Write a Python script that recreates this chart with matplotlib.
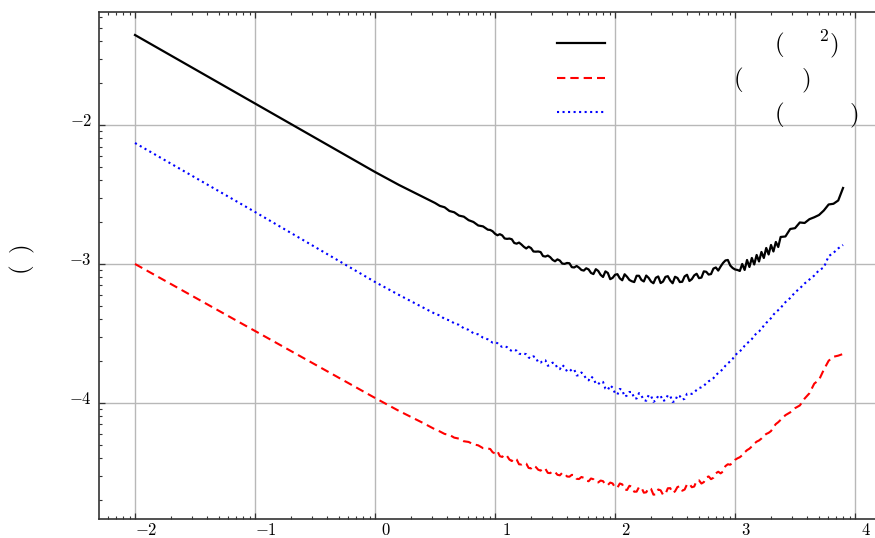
import numpy as np
import matplotlib
matplotlib.use("Agg")
import matplotlib.pyplot as plt
from matplotlib.ticker import FixedLocator, LogLocator, FuncFormatter, NullFormatter
from matplotlib.transforms import ScaledTranslation

plt.rcParams["mathtext.fontset"] = "cm"
plt.rcParams["font.family"] = "serif"
plt.rcParams["font.serif"] = ["DejaVu Serif"]

# averaging time, log10 (s): coarse sweep
log_tau = [
    -2.0, -1.8, -1.6, -1.4, -1.2, -1.0, -0.8, -0.6, -0.4, -0.2, 0.0, 0.2, 0.4,
    0.50, 0.54, 0.58, 0.62, 0.66, 0.70, 0.74, 0.78, 0.82, 0.86, 0.90, 0.94, 0.98,
    1.02, 1.06, 1.10, 1.14, 1.18, 1.22, 1.26, 1.30, 1.34, 1.38, 1.42, 1.46, 1.50,
    1.54, 1.58, 1.62, 1.66, 1.70, 1.74, 1.78, 1.82, 1.86, 1.90, 1.94, 1.98,
    2.02, 2.06, 2.10, 2.14, 2.18, 2.22, 2.26, 2.30, 2.34, 2.38, 2.42, 2.46, 2.50,
    2.54, 2.58, 2.62, 2.66, 2.70, 2.74, 2.78, 2.82, 2.86, 2.90, 2.94, 2.98,
    3.02, 3.06, 3.10, 3.14, 3.18, 3.22, 3.26, 3.30, 3.34, 3.38, 3.42, 3.46, 3.50,
    3.54, 3.58, 3.62, 3.66, 3.70, 3.74, 3.78, 3.82, 3.86, 3.90,
]

# deviation, log10
log_dev_solid = [
    -1.3525, -1.4511, -1.5496, -1.6482, -1.7467, -1.8453, -1.9439, -2.0424, -2.1410, -2.2395, -2.3381, -2.4316, -2.5180,
    -2.5611, -2.5820, -2.5921, -2.6187, -2.6280, -2.6518, -2.6597, -2.6849, -2.6978, -2.7230, -2.7295, -2.7532, -2.7647,
    -2.7935, -2.7942, -2.8194, -2.8223, -2.8539, -2.8597, -2.8885, -2.8856, -2.9115, -2.9144, -2.9467, -2.9511, -2.9806,
    -2.9755, -2.9993, -2.9949, -3.0252, -3.0266, -3.0475, -3.0395, -3.0726, -3.0503, -3.0935, -3.0647, -3.1000,
    -3.0734, -3.1172, -3.0921, -3.1244, -3.0849, -3.1151, -3.0834, -3.1266, -3.0993, -3.1374, -3.0928, -3.1194, -3.0921,
    -3.1302, -3.0892, -3.1223, -3.0820, -3.1021, -3.0532, -3.0762, -3.0331, -3.0475, -2.9928, -2.9712, -3.0288,
    -3.0431, -3.0000, -2.9712, -2.9568, -2.9352, -2.9136, -2.8849, -2.8633, -2.8417, -2.8057, -2.8021, -2.7482, -2.7424,
    -2.7014, -2.7050, -2.6777, -2.6640, -2.6475, -2.6151, -2.5719, -2.5669, -2.5431, -2.4532,
]

log_dev_dashed = [
    -3.0000, -3.0964, -3.1928, -3.2892, -3.3856, -3.4820, -3.5784, -3.6748, -3.7712, -3.8676, -3.9640, -4.0575, -4.1439,
    -4.1899, -4.2050, -4.2230, -4.2295, -4.2496, -4.2568, -4.2755, -4.2806, -4.2978, -4.3050, -4.3252, -4.3280, -4.3547,
    -4.3467, -4.3885, -4.3813, -4.4180, -4.4065, -4.4431, -4.4360, -4.4712, -4.4611, -4.4870, -4.4741, -4.5050, -4.4964,
    -4.5208, -4.5086, -4.5309, -4.5201, -4.5475, -4.5388, -4.5633, -4.5489, -4.5719, -4.5626, -4.5906, -4.5791,
    -4.6093, -4.5856, -4.6259, -4.6029, -4.6381, -4.6086, -4.6431, -4.6180, -4.6583, -4.6288, -4.6554, -4.6129, -4.6360,
    -4.6000, -4.6230, -4.5820, -4.6014, -4.5568, -4.5698, -4.5288, -4.5381, -4.4949, -4.4935, -4.4410, -4.4295,
    -4.3985, -4.3762, -4.3395, -4.3129, -4.2784, -4.2561, -4.2230, -4.2021, -4.1518, -4.1216, -4.0878, -4.0676, -4.0374,
    -4.0180, -3.9683, -3.9302, -3.8611, -3.8338, -3.7604, -3.6964, -3.6676, -3.6597, -3.6475,
]

log_dev_dotted = [
    -2.1295, -2.2288, -2.3280, -2.4273, -2.5266, -2.6259, -2.7266, -2.8273, -2.9280, -3.0288, -3.1295, -3.2230, -3.3129,
    -3.3583, -3.3705, -3.3957, -3.4057, -3.4266, -3.4381, -3.4626, -3.4741, -3.4985, -3.5065, -3.5302, -3.5424, -3.5654,
    -3.5698, -3.5964, -3.5985, -3.6259, -3.6237, -3.6496, -3.6496, -3.6791, -3.6734, -3.7101, -3.6935, -3.7266, -3.7165,
    -3.7568, -3.7417, -3.7741, -3.7590, -3.8007, -3.7985, -3.8374, -3.8230, -3.8654, -3.8489, -3.9065, -3.8899,
    -3.9395, -3.9072, -3.9460, -3.9208, -3.9676, -3.9475, -3.9842, -3.9482, -3.9820, -3.9482, -3.9784, -3.9489, -3.9878,
    -3.9511, -3.9698, -3.9352, -3.9244, -3.8928, -3.8770, -3.8439, -3.8216, -3.7842, -3.7547, -3.7144, -3.6827,
    -3.6403, -3.6115, -3.5705, -3.5403, -3.4978, -3.4676, -3.4237, -3.3892, -3.3460, -3.3158, -3.2748, -3.2446, -3.2043,
    -3.1755, -3.1403, -3.1115, -3.0834, -3.0446, -3.0252, -2.9439, -2.9201, -2.8878, -2.8633,
]

# extra averaging times inside the noisy stretch, log10 (s)
log_tau_fine = [
    0.96, 1.00, 1.04, 1.08, 1.12, 1.16, 1.20, 1.24, 1.28, 1.32, 1.36, 1.40, 1.44, 1.48,
    1.52, 1.56, 1.60, 1.64, 1.68, 1.72, 1.76, 1.80, 1.84, 1.88, 1.92, 1.96, 2.00, 2.04,
    2.08, 2.12, 2.16, 2.20, 2.24, 2.28, 2.32, 2.36, 2.40, 2.44, 2.48, 2.52, 2.56, 2.60,
    2.64, 2.68, 2.72, 2.76, 2.80, 2.84, 2.88, 2.92, 2.96, 3.00, 3.04, 3.08, 3.12, 3.16,
    3.20, 3.24, 3.28, 3.32, 3.36,
]

log_dev_solid_fine = [
    -2.7554, -2.7827, -2.7856, -2.8165, -2.8172, -2.8489, -2.8460, -2.8762, -2.8755, -2.9101, -2.9101, -2.9431, -2.9395, -2.9705,
    -2.9669, -2.9971, -2.9928, -3.0230, -3.0144, -3.0431, -3.0309, -3.0647, -3.0374, -3.0784, -3.0532, -3.1093, -3.0777, -3.1036,
    -3.0741, -3.1151, -3.1302, -3.0849, -3.1259, -3.1000, -3.1388, -3.0899, -3.1266, -3.0878, -3.1388, -3.1007, -3.1280, -3.0777,
    -3.1093, -3.0705, -3.0978, -3.0561, -3.0726, -3.0252, -3.0180, -2.9748, -3.0108, -3.0395, -3.0503, -3.0431, -3.0216, -3.0036,
    -2.9820, -2.9568, -2.9316, -2.9101, -2.8777,
]

log_dev_dashed_fine = [
    -4.3313, -4.3636, -4.3827, -4.3705, -4.4075, -4.3971, -4.4413, -4.4313, -4.4676, -4.4503, -4.4806, -4.4676, -4.5032, -4.4913,
    -4.5169, -4.5029, -4.5291, -4.5172, -4.5460, -4.5327, -4.5590, -4.5435, -4.5712, -4.5583, -4.5892, -4.5730, -4.6086, -4.5795,
    -4.6237, -4.5960, -4.6388, -4.6050, -4.6457, -4.6119, -4.6597, -4.6226, -4.6608, -4.6140, -4.6478, -4.6047, -4.6316, -4.5852,
    -4.6065, -4.5586, -4.5798, -4.5356, -4.5482, -4.5061, -4.5065, -4.4543, -4.4446, -4.4093, -4.3903, -4.3554, -4.3291, -4.2931,
    -4.2701, -4.2370, -4.2151, -4.1741, -4.1385,
]

log_dev_dotted_fine = [
    -3.5561, -3.5633, -3.5881, -3.5924, -3.6165, -3.6183, -3.6449, -3.6449, -3.6730, -3.6647, -3.7086, -3.6935, -3.7324, -3.7101,
    -3.7489, -3.7270, -3.7730, -3.7572, -3.8021, -3.7809, -3.8259, -3.8093, -3.8615, -3.8464, -3.8971, -3.8737, -3.9298, -3.8989,
    -3.9547, -3.9212, -3.9680, -3.9295, -3.9795, -3.9439, -3.9917, -3.9478, -3.9863, -3.9442, -3.9928, -3.9449, -3.9762, -3.9338,
    -3.9345, -3.9061, -3.8874, -3.8583, -3.8352, -3.8003, -3.7716, -3.7320, -3.7011, -3.6593, -3.6284, -3.5885, -3.5575, -3.5165,
    -3.4852, -3.4435, -3.4090, -3.3651, -3.3324,
]

legend_labels = [
    r"$\hspace{7.27}(\hspace{1.55}{}^{2})$",
    r"$\hspace{5.42}(\hspace{2.63})$",
    r"$\hspace{7.27}(\hspace{2.98})$",
]


def merged(coarse, fine):
    t = np.concatenate([log_tau, log_tau_fine])
    v = np.concatenate([coarse, fine])
    order = np.argsort(t, kind="stable")
    return 10.0 ** t[order], 10.0 ** v[order]


fig = plt.figure(figsize=(8.75, 5.38), dpi=100)
ax = fig.add_axes([99 / 875, 19 / 538, 778 / 875, 507 / 538])

styles = [
    (log_dev_solid, log_dev_solid_fine, dict(color="black", lw=1.6, ls="-")),
    (log_dev_dashed, log_dev_dashed_fine, dict(color="red", lw=1.5, ls=(0, (4, 2.4)))),
    (log_dev_dotted, log_dev_dotted_fine, dict(color="blue", lw=1.5, ls=":")),
]
for (coarse, fine, kw), lab in zip(styles, legend_labels):
    x, y = merged(coarse, fine)
    ax.loglog(x, y, label=lab, **kw)

ax.set_xlim(10 ** -2.3, 10 ** 4.183)
ax.set_ylim(10 ** -4.835, 10 ** -1.187)

exp_fmt = FuncFormatter(lambda v, pos: rf"${int(round(np.log10(v)))}$")
ax.xaxis.set_major_locator(FixedLocator([10.0 ** k for k in range(-2, 5)]))
ax.yaxis.set_major_locator(FixedLocator([10.0 ** k for k in range(-4, -1)]))
for axis in (ax.xaxis, ax.yaxis):
    axis.set_minor_locator(LogLocator(base=10, subs=np.arange(2, 10), numticks=20))
    axis.set_major_formatter(exp_fmt)
    axis.set_minor_formatter(NullFormatter())

ax.grid(True, which="major", color="#b8b8b8", lw=1.0)
ax.set_axisbelow(True)

ax.tick_params(which="both", direction="in", top=True, right=False,
               color="#333333", labelsize=12)
ax.tick_params(which="major", length=4.5, width=0.9)
ax.tick_params(which="minor", length=2.5, width=0.8)
ax.tick_params(axis="x", pad=2)
ax.tick_params(axis="y", pad=5)

ax.spines["right"].set_visible(False)
for side in ("left", "bottom", "top"):
    ax.spines[side].set_color("#333333")
    ax.spines[side].set_linewidth(1.2)

ax.set_ylabel(r"$(\;\;)$", fontsize=18, ha="center", va="center")
ax.yaxis.set_label_coords(-0.098, 0.511)

ax.legend(loc="upper left", bbox_to_anchor=(0.5887, 0.967), frameon=False,
          fontsize=18, handlelength=1.92, handletextpad=0.4, labelspacing=0.22,
          borderpad=0, borderaxespad=0)

fig.canvas.draw()
dx = ScaledTranslation(11 / 100, 0, fig.dpi_scale_trans)
dy = ScaledTranslation(0, 5 / 100, fig.dpi_scale_trans)
for lab in ax.get_xticklabels():
    lab.set_transform(lab.get_transform() + dx)
for lab in ax.get_yticklabels():
    lab.set_transform(lab.get_transform() + dy)

fig.savefig("out.png", dpi=100)
